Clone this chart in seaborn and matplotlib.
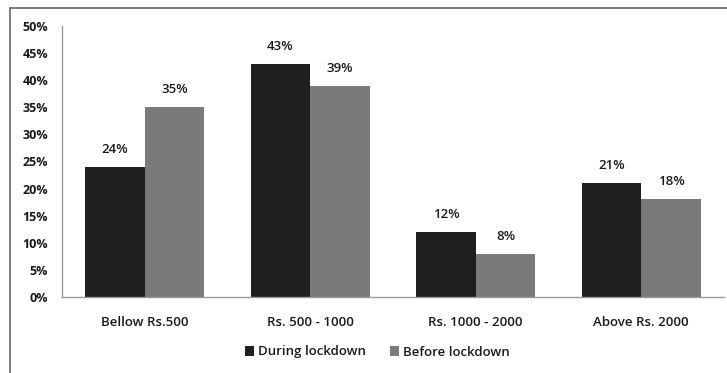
import matplotlib
matplotlib.use("Agg")
import matplotlib.pyplot as plt
import seaborn as sns
import pandas as pd
from matplotlib.lines import Line2D
from matplotlib.patches import Patch

categories = ["Bellow Rs.500", "Rs. 500 - 1000", "Rs. 1000 - 2000", "Above Rs. 2000"]
series_names = ["During lockdown", "Before lockdown"]
during = [24, 43, 12, 21]
before = [35, 39, 8, 18]
y_ticks = [0, 5, 10, 15, 20, 25, 30, 35, 40, 45, 50]

df = pd.DataFrame({
    "category": categories * 2,
    "series": [series_names[0]] * len(categories) + [series_names[1]] * len(categories),
    "value": during + before,
})

sns.set_style("white")
plt.rcParams["font.family"] = ["Open Sans", "DejaVu Sans"]

fig = plt.figure(figsize=(7.27, 3.73), dpi=100)
ax = fig.add_axes([62 / 727, 1 - 297 / 373, (724 - 62) / 727, (297 - 26) / 373])

palette = {series_names[0]: "#1f1f1f", series_names[1]: "#7a7a7a"}
sns.barplot(data=df, x="category", y="value", hue="series", order=categories,
            hue_order=series_names, palette=palette, width=0.72, saturation=1,
            ax=ax, legend=False, edgecolor="none")

ax.set_ylim(0, 50)
ax.set_xlim(-0.5, len(categories) - 0.5)
ax.set_yticks(y_ticks)
ax.set_yticklabels([f"{t}%" for t in y_ticks], fontsize=9, fontweight="bold", color="#1a1a1a")
ax.tick_params(axis="x", labelsize=9.5, length=0, pad=14, labelcolor="#1a1a1a")
for lbl in ax.get_xticklabels():
    lbl.set_fontweight("semibold")
ax.tick_params(axis="y", length=0, pad=10)
ax.set_xlabel("")
ax.set_ylabel("")

for c in ax.containers:
    ax.bar_label(c, labels=[f"{int(round(v))}%" for v in c.datavalues], padding=8,
                 fontsize=9.5, fontweight="semibold", color="#1a1a1a")

for side in ["top", "right"]:
    ax.spines[side].set_visible(False)
ax.spines["left"].set_color("#9a9a9a")
ax.spines["bottom"].set_color("#9a9a9a")
ax.spines["left"].set_linewidth(1)
ax.spines["bottom"].set_linewidth(1)

handles = [Patch(facecolor=palette[s], edgecolor="none") for s in series_names]
leg = fig.legend(handles, series_names, loc="center", bbox_to_anchor=(377 / 727, 1 - 352 / 373),
                 ncol=2, frameon=False, prop={"size": 9.5, "weight": "semibold"},
                 handlelength=0.7, handleheight=0.7, handletextpad=0.3, columnspacing=1.8)
for t in leg.get_texts():
    t.set_color("#1a1a1a")

# outer frame (top and left edges visible)
fig.add_artist(Line2D([10 / 727, 1.0], [1 - 8 / 373, 1 - 8 / 373], transform=fig.transFigure,
                      color="#6a6a6a", linewidth=1.2))
fig.add_artist(Line2D([10 / 727, 10 / 727], [1 - 8 / 373, 0.0], transform=fig.transFigure,
                      color="#6a6a6a", linewidth=1.2))

fig.savefig("out.png", dpi=100)
